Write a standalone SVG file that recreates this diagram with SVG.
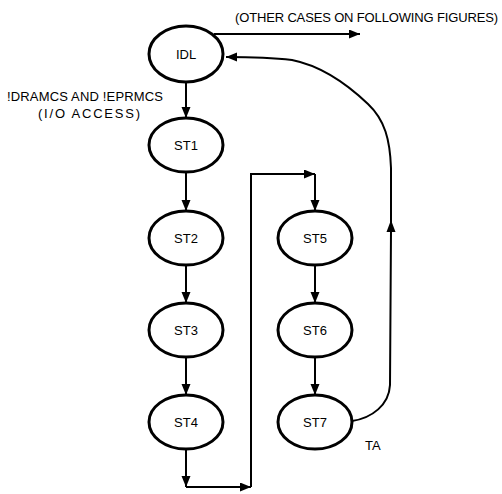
<svg xmlns="http://www.w3.org/2000/svg" width="502" height="494" viewBox="0 0 502 494">
<style>
.node ellipse{fill:#fff;stroke:#000;stroke-width:3}
.node text,.lbl{font-family:"Liberation Sans",Arial,sans-serif;font-size:13px;fill:#000}
.node text{text-anchor:middle}
#connectors .ln{fill:none;stroke:#000;stroke-width:2}
#connectors .head{fill:#000;stroke:none}
.arr{marker-end:url(#ah)}
</style>
<defs>
<marker id="ah" markerUnits="userSpaceOnUse" markerWidth="12" markerHeight="10" refX="11" refY="4.5" orient="auto">
<path d="M0,0 L11,4.5 L0,9 z" fill="#000"/>
</marker>
</defs>
<rect width="502" height="494" fill="#fff"/>
<g id="connectors">
<path class="ln arr" d="M186,82 L186,118"/>
<path class="ln arr" d="M186,172 L186,211"/>
<path class="ln arr" d="M186,265 L186,303"/>
<path class="ln arr" d="M186,357 L186,395"/>
<path class="ln arr" d="M186,449 L186,487"/>
<path class="ln arr" d="M186,487 L251,487"/>
<path class="ln arr" d="M251,487 L251,174 L315,174"/>
<path class="ln arr" d="M315,174 L315,211"/>
<path class="ln arr" d="M315,265 L315,303"/>
<path class="ln arr" d="M315,357 L315,395"/>
<path class="ln arr" d="M214,34 L360,34"/>
<path class="ln arr" d="M352,421 C372,418 389,405 390,385 L391,230 L391,168 C390,140 385,120 368,104 C347,84 322,66 292,60 C267,57 245,57 226,57"/>
<path class="head" d="M386.5,232 L391,220 L395.5,232 z"/>
</g>
<g id="IDL" class="node"><ellipse cx="186" cy="54" rx="37" ry="28"/><text x="186" y="59">IDL</text></g>
<g id="ST1" class="node"><ellipse cx="186" cy="145" rx="37" ry="27"/><text x="186" y="150">ST1</text></g>
<g id="ST2" class="node"><ellipse cx="186" cy="238" rx="37" ry="27"/><text x="186" y="243">ST2</text></g>
<g id="ST3" class="node"><ellipse cx="186" cy="330" rx="37" ry="27"/><text x="186" y="335">ST3</text></g>
<g id="ST4" class="node"><ellipse cx="186" cy="422" rx="37" ry="27"/><text x="186" y="427">ST4</text></g>
<g id="ST5" class="node"><ellipse cx="315" cy="238" rx="37" ry="27"/><text x="315" y="243">ST5</text></g>
<g id="ST6" class="node"><ellipse cx="315" cy="330" rx="37" ry="27"/><text x="315" y="335">ST6</text></g>
<g id="ST7" class="node"><ellipse cx="315" cy="422" rx="37" ry="27"/><text x="315" y="427">ST7</text></g>
<text class="lbl" x="235" y="22" textLength="263" lengthAdjust="spacing">(OTHER CASES ON FOLLOWING FIGURES)</text>
<text class="lbl" x="7" y="101" textLength="156" lengthAdjust="spacing">!DRAMCS AND !EPRMCS</text>
<text class="lbl" x="38" y="118" textLength="102" lengthAdjust="spacing">(I/O ACCESS)</text>
<text class="lbl" x="365" y="450">TA</text>
</svg>
